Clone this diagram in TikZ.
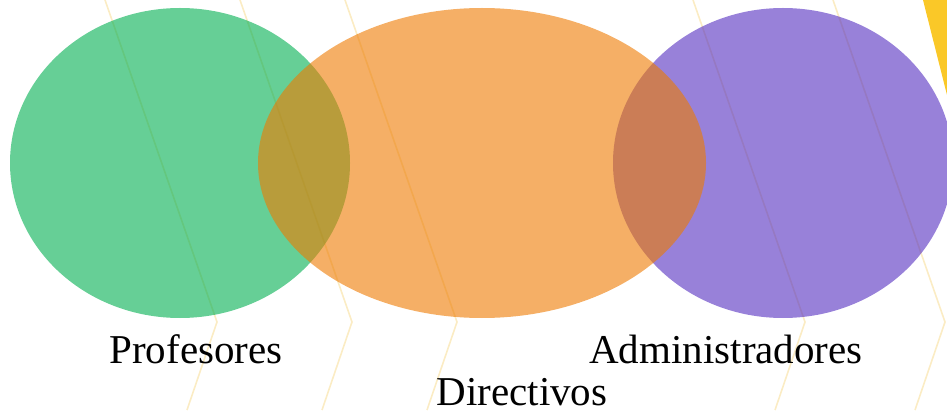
\documentclass[tikz,border=0pt]{standalone}
\usepackage{fontspec}
\setmainfont{Liberation Serif}
\definecolor{stripe}{RGB}{251,236,196}
\definecolor{corner}{RGB}{250,200,40}
\definecolor{profcol}{RGB}{0,175,80}
\definecolor{dircol}{RGB}{238,122,0}
\definecolor{admcol}{RGB}{83,45,192}
\tikzset{
  chevron/.style={stripe,line width=1.6pt},
  setfill/.style={fill opacity=0.6},
  setlabel/.style={anchor=base,inner sep=0pt,font=\fontsize{41}{45}\selectfont}
}
\begin{document}
\begin{tikzpicture}[x=1pt,y=1pt]
    \useasboundingbox (0,0) rectangle (947,410);
    \clip (0,0) rectangle (947,410);
    % background stripes
    \foreach \v in {217,352,457,805,945}
      \draw[chevron] (\v-112,410) --++ (112,-322) --++ (-30,-88);
    \fill[corner] (923,410) -- (947,410) -- (947,315) -- cycle;
    % sets
    \fill[profcol,setfill] (180,247) ellipse [x radius=170, y radius=155];
    \fill[admcol,setfill] (783,247) ellipse [x radius=170, y radius=155];
    \fill[dircol,setfill] (482,247) ellipse [x radius=224, y radius=155];
    \node[setlabel] (prof) at (196,47) {Profesores};
    \node[setlabel] (adm) at (726,47) {Administradores};
    \node[setlabel] (dir) at (522,5) {Directivos};
\end{tikzpicture}
\end{document}
